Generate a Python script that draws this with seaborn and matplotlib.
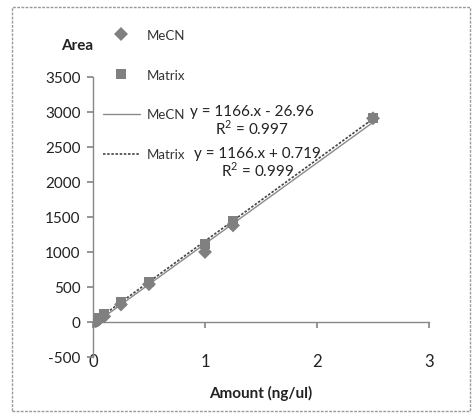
import numpy as np
import pandas as pd
import seaborn as sns
import matplotlib
matplotlib.use("Agg")
import matplotlib.pyplot as plt
from matplotlib.lines import Line2D
from matplotlib.patches import Rectangle

# ---- data ----
amount = [0, 0.025, 0.05, 0.1, 0.25, 0.5, 1.0, 1.25, 2.5]
area_mecn = [0, 10, 30, 80, 250, 540, 1000, 1380, 2910]
area_matrix = [0, 30, 60, 110, 280, 570, 1110, 1450, 2920]
series = ["MeCN", "Matrix"]
eq_mecn = "y = 1166.x - 26.96\nR$^2$ = 0.997"
eq_matrix = "y = 1166.x + 0.719\nR$^2$ = 0.999"
x_ticks = [0, 1, 2, 3]
y_ticks = [-500, 0, 500, 1000, 1500, 2000, 2500, 3000, 3500]

df = pd.DataFrame({
    "Amount": amount * 2,
    "Area": area_mecn + area_matrix,
    "Series": [series[0]] * len(amount) + [series[1]] * len(amount),
})

sns.set_theme(style="white")
plt.rcParams["font.family"] = ["Lato", "DejaVu Sans"]
plt.rcParams["axes.unicode_minus"] = False
plt.rcParams["mathtext.fontset"] = "custom"
plt.rcParams["mathtext.rm"] = "Lato"

fig = plt.figure(figsize=(4.75, 4.14), dpi=100)
ax = fig.add_axes([0.1958, 0.1353, 0.7074, 0.6763])

grey = "#808080"
sns.scatterplot(data=df, x="Amount", y="Area", style="Series",
                markers={"MeCN": "D", "Matrix": "s"},
                color=grey, s=50, edgecolor=grey, linewidth=0,
                legend=False, ax=ax, zorder=3)
sns.regplot(x=amount, y=area_mecn, scatter=False, ci=None, ax=ax,
            line_kws=dict(color="#8a8a8a", lw=1.0, ls="-"))
sns.regplot(x=amount, y=area_matrix, scatter=False, ci=None, ax=ax,
            line_kws=dict(color="#444444", lw=1.2, ls=(0, (1.5, 1.0))))

ax.set_xlim(0, 3)
ax.set_ylim(-500, 3500)
ax.set_xticks(x_ticks)
ax.set_yticks(y_ticks)
ax.set_xlabel("")
ax.set_ylabel("")
for s in ["top", "right"]:
    ax.spines[s].set_visible(False)
ax.spines["bottom"].set_position(("data", 0))
for s in ["left", "bottom"]:
    ax.spines[s].set_color("#888888")
    ax.spines[s].set_linewidth(1.0)
ax.tick_params(axis="y", direction="out", length=4, color="#888888",
               labelsize=11, labelcolor="#222222", left=True, pad=5)
ax.tick_params(axis="x", direction="out", length=4, color="#888888",
               labelsize=12, labelcolor="#222222", bottom=True, pad=18)

fig.text(77 / 475, 1 - 46 / 414, "Area", ha="center", va="center",
         fontsize=11, fontweight="bold", color="#222222")
fig.text(261 / 475, 1 - 393 / 414, "Amount (ng/ul)", ha="center", va="center",
         fontsize=11, fontweight="bold", color="#222222")

ax.text(1.42, 2880, eq_mecn, ha="center", va="center", fontsize=11,
        color="#222222", linespacing=1.0)
ax.text(1.47, 2280, eq_matrix, ha="center", va="center", fontsize=11,
        color="#222222", linespacing=1.0)

handles = [
    Line2D([], [], marker="D", ls="none", color=grey, markersize=7, markeredgewidth=0),
    Line2D([], [], marker="s", ls="none", color=grey, markersize=7, markeredgewidth=0),
    Line2D([], [], color="#8a8a8a", lw=1.0),
    Line2D([], [], color="#444444", lw=1.2, ls=(0, (1.5, 1.0))),
]
fig.legend(handles, [series[0], series[1], series[0], series[1]],
           loc="upper left", bbox_to_anchor=(103 / 475, 1 - 30 / 414),
           frameon=False, fontsize=9.5, handlelength=2.8, handletextpad=0.55,
           labelspacing=2.1, borderpad=0, borderaxespad=0,
           labelcolor="#333333")

fig.patches.append(Rectangle((12 / 475, 2 / 414), 458 / 475, 404 / 414,
                             transform=fig.transFigure, fill=False,
                             edgecolor="#999999", lw=1.0, ls=(0, (2, 1))))

fig.savefig("out.png", dpi=100, facecolor="white")
